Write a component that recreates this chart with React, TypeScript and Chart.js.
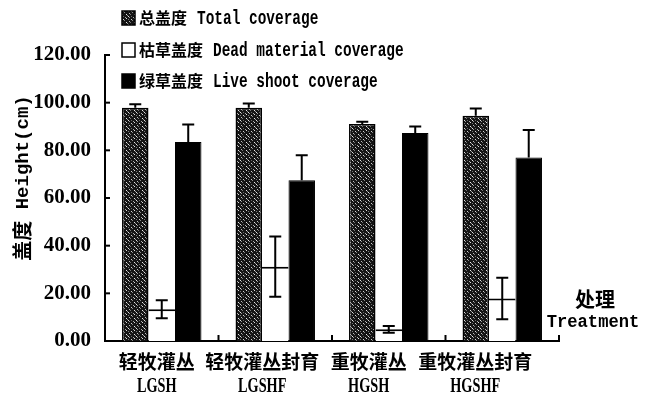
import React, { useEffect, useRef } from "react";
import { Chart, registerables } from "chart.js";

Chart.register(...registerables);

const CATEGORIES_CN = ["轻牧灌丛", "轻牧灌丛封育", "重牧灌丛", "重牧灌丛封育"];
const CATEGORIES_EN = ["LGSH", "LGSHF", "HGSH", "HGSHF"];
const TOTAL = [97.9, 97.9, 91.0, 94.5];
const TOTAL_ERR = [1.4, 1.7, 1.0, 3.1];
const DEAD = [13.3, 31.2, 4.9, 17.8];
const DEAD_ERR = [3.8, 12.6, 1.4, 8.7];
const LIVE = [83.5, 67.4, 87.3, 77.0];
const LIVE_ERR = [7.3, 10.5, 2.7, 11.5];
const Y_TICKS = [0, 20, 40, 60, 80, 100, 120];
const LEGEND_CN = ["总盖度", "枯草盖度", "绿草盖度"];
const LEGEND_EN = ["Total coverage", "Dead material coverage", "Live shoot coverage"];

const LABEL_SHIFT = [-5, -13, -20, -27];
const CJK = '"Noto Sans CJK SC"';

// speckle texture cells: [x, y, shade]
const SPECKS: [number, number, string][] = [
  [0, 0, "#e0e0e0"], [1, 1, "#9a9a9a"], [3, 3, "#d0d0d0"], [4, 4, "#888"],
  [6, 6, "#e8e8e8"], [7, 7, "#999"], [5, 1, "#aaa"], [6, 2, "#ddd"],
  [1, 5, "#bbb"], [2, 6, "#777"], [3, 0, "#666"], [0, 3, "#777"],
];

function makePattern(): CanvasPattern | string {
  const c = document.createElement("canvas");
  c.width = 8;
  c.height = 8;
  const g = c.getContext("2d");
  if (!g) return "#444";
  g.fillStyle = "#141414";
  g.fillRect(0, 0, 8, 8);
  SPECKS.forEach(([x, y, s]) => {
    g.fillStyle = s;
    g.fillRect(x, y, 1, 1);
  });
  const p = g.createPattern(c, "repeat");
  return p || "#444";
}

export default function App() {
  const ref = useRef<HTMLCanvasElement>(null);
  useEffect(() => {
    const canvas = ref.current;
    if (!canvas) return;
    const pattern = makePattern();
    const errs = [TOTAL_ERR, DEAD_ERR, LIVE_ERR];
    const both = [false, true, false];

    const decor = {
      id: "decor",
      afterDatasetsDraw(chart: any) {
        const ctx = chart.ctx;
        const y = chart.scales.y;
        const x = chart.scales.x;
        const area = chart.chartArea;
        ctx.save();
        // error bars
        ctx.strokeStyle = "#000";
        ctx.lineWidth = 2;
        chart.data.datasets.forEach((ds: any, di: number) => {
          const meta = chart.getDatasetMeta(di);
          meta.data.forEach((el: any, i: number) => {
            const v = ds.data[i];
            const e = errs[di][i];
            const cx = el.x;
            const yt = y.getPixelForValue(v + e);
            const yb = both[di] ? y.getPixelForValue(v - e) : y.getPixelForValue(v);
            ctx.beginPath();
            ctx.moveTo(cx, yt);
            ctx.lineTo(cx, yb);
            ctx.moveTo(cx - 6, yt);
            ctx.lineTo(cx + 6, yt);
            if (both[di]) {
              ctx.moveTo(cx - 6, yb);
              ctx.lineTo(cx + 6, yb);
            }
            ctx.stroke();
          });
        });
        // inward ticks
        ctx.lineWidth = 2;
        Y_TICKS.forEach((t) => {
          const py = y.getPixelForValue(t);
          ctx.beginPath();
          ctx.moveTo(area.left, py);
          ctx.lineTo(area.left + 5, py);
          ctx.stroke();
        });
        for (let i = 0; i < CATEGORIES_EN.length; i++) {
          const px = x.getPixelForValue(i) + (x.getPixelForValue(1) - x.getPixelForValue(0)) / 2;
          ctx.beginPath();
          ctx.moveTo(px, area.bottom);
          ctx.lineTo(px, area.bottom - 6);
          ctx.stroke();
        }
        // x labels
        ctx.fillStyle = "#000";
        ctx.textAlign = "center";
        ctx.textBaseline = "middle";
        for (let i = 0; i < CATEGORIES_EN.length; i++) {
          const px = x.getPixelForValue(i) + LABEL_SHIFT[i];
          ctx.font = `bold 19px ${CJK}`;
          ctx.fillText(CATEGORIES_CN[i], px, area.bottom + 21);
          ctx.save();
          ctx.translate(px, area.bottom + 46);
          ctx.scale(0.68, 1);
          ctx.font = 'bold 21px "Liberation Serif"';
          ctx.fillText(CATEGORIES_EN[i], 0, 0);
          ctx.restore();
        }
        // x title
        ctx.font = `bold 20px ${CJK}`;
        ctx.fillText("处理", 595, 299);
        ctx.save();
        ctx.translate(593, 322);
        ctx.scale(0.9, 1);
        ctx.font = 'bold 19px "Liberation Mono"';
        ctx.fillText("Treatment", 0, 0);
        ctx.restore();
        // y title
        ctx.save();
        ctx.translate(22, 178);
        ctx.rotate(-Math.PI / 2);
        ctx.textAlign = "left";
        ctx.font = `bold 20px ${CJK}`;
        const cnW = ctx.measureText("盖度").width;
        ctx.font = 'bold 19px "Liberation Mono"';
        const enW = ctx.measureText(" Height(cm)").width;
        const start = -(cnW + enW) / 2;
        ctx.font = `bold 20px ${CJK}`;
        ctx.fillText("盖度", start, 0);
        ctx.font = 'bold 19px "Liberation Mono"';
        ctx.fillText(" Height(cm)", start + cnW, 1);
        ctx.restore();
        // legend
        const rows = [18, 50, 81];
        const fills: any[] = [pattern, "#fff", "#000"];
        rows.forEach((ry, i) => {
          ctx.fillStyle = fills[i];
          ctx.fillRect(122, ry - 7, 13, 14);
          ctx.strokeStyle = "#000";
          ctx.lineWidth = 1.5;
          ctx.strokeRect(122, ry - 7, 13, 14);
          ctx.fillStyle = "#000";
          ctx.textAlign = "left";
          ctx.font = `bold 16px ${CJK}`;
          ctx.fillText(LEGEND_CN[i], 139, ry);
          const w = ctx.measureText(LEGEND_CN[i]).width;
          ctx.save();
          ctx.translate(139 + w + 10, ry + 1);
          ctx.scale(0.76, 1.05);
          ctx.font = 'bold 19px "Liberation Mono"';
          ctx.fillText(LEGEND_EN[i], 0, 0);
          ctx.restore();
        });
        ctx.restore();
      },
    };

    const chart = new Chart(canvas, {
      type: "bar",
      data: {
        labels: CATEGORIES_EN,
        datasets: [
          {
            label: "总盖度 Total coverage",
            data: TOTAL,
            backgroundColor: pattern as any,
            borderColor: "#000",
            borderWidth: 1.5,
            categoryPercentage: 0.7,
            barPercentage: 1,
          },
          {
            label: "枯草盖度 Dead material coverage",
            data: DEAD,
            backgroundColor: "#fff",
            borderColor: "#000",
            borderWidth: { top: 2, left: 0, right: 0, bottom: 0 },
            categoryPercentage: 0.7,
            barPercentage: 1,
          },
          {
            label: "绿草盖度 Live shoot coverage",
            data: LIVE,
            backgroundColor: "#000",
            borderColor: "#000",
            borderWidth: 1,
            categoryPercentage: 0.7,
            barPercentage: 1,
          },
        ],
      },
      options: {
        animation: false,
        responsive: false,
        maintainAspectRatio: false,
        layout: { padding: { top: 55, right: 97, left: 0, bottom: 0 } },
        plugins: { legend: { display: false }, tooltip: { enabled: false } },
        scales: {
          x: {
            offset: true,
            grid: { display: false },
            border: { display: true, color: "#000", width: 2 },
            ticks: { display: false },
            afterFit: (s: any) => {
              s.height = 58;
            },
          },
          y: {
            min: 0,
            max: 120,
            grid: { display: false },
            border: { display: true, color: "#000", width: 2 },
            ticks: {
              stepSize: 20,
              padding: 6,
              color: "#000",
              font: { family: '"Liberation Serif"', size: 21, weight: "bold" },
              callback: (v: any) => Number(v).toFixed(2),
            },
            afterFit: (s: any) => {
              s.width = 105;
            },
          },
        },
      },
      plugins: [decor],
    });
    return () => chart.destroy();
  }, []);
  return (
    <div style={{ position: "fixed", left: 0, top: 0, width: 656, height: 399, background: "#fff" }}>
      <canvas ref={ref} width={656} height={399} style={{ width: 656, height: 399, display: "block" }} />
    </div>
  );
}
